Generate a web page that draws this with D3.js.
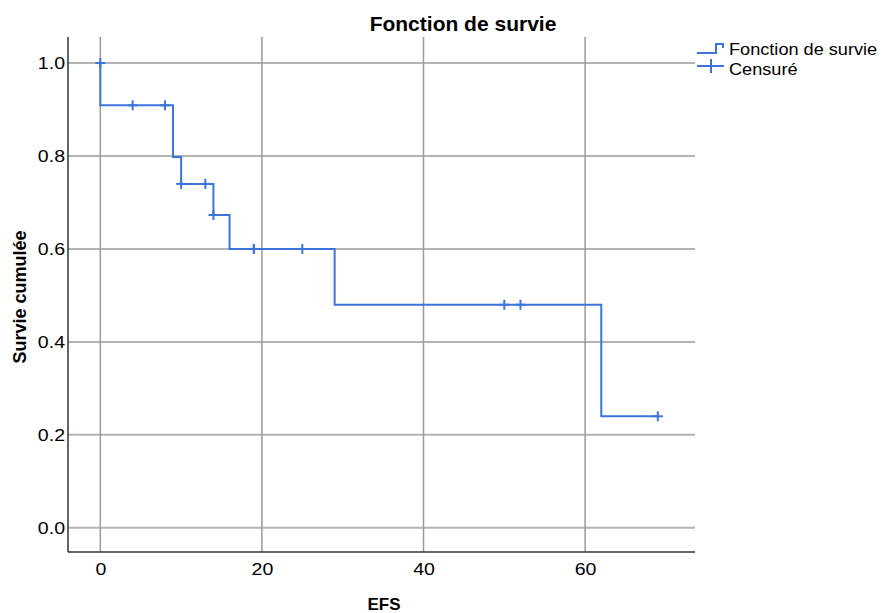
<!DOCTYPE html>
<html>
<head>
<meta charset="utf-8">
<script src="https://cdn.jsdelivr.net/npm/d3@7"></script>
<style>
  body { margin: 0; background: #fff; }
  text { font-family: "Liberation Sans", Arial, sans-serif; fill: #000; }
</style>
</head>
<body>
<div id="chart-area"></div>
<script>
// survival curve (Kaplan-Meier steps)
var stepTimes = [0, 0, 9, 10, 14, 16, 29, 62, 69]
var stepSurv  = [1.0, 0.909, 0.798, 0.740, 0.673, 0.600, 0.480, 0.240, 0.240]

// censored observations
var censTimes = [0, 4, 8, 10, 13, 14, 19, 19, 25, 50, 52, 69]
var censSurv  = [1.0, 0.909, 0.909, 0.740, 0.740, 0.673, 0.600, 0.600, 0.600, 0.480, 0.480, 0.240]

var xTicks = [0, 20, 40, 60]
var yTicks = [0, 0.2, 0.4, 0.6, 0.8, 1.0]
var legendLabels = ['Fonction de survie', 'Censuré']

var W = 894, H = 613
var plot = { left: 68, right: 695, top: 37, bottom: 552 }
var blue = '#3d74dc'
var sx = 1.15 // chart text is stretched horizontally

var svg = d3.select('#chart-area')
  .append('svg')
    .attr('width', W)
    .attr('height', H)

var x = d3.scaleLinear()
    .domain([-4, 73.6])
    .range([plot.left, plot.right])

var y = d3.scaleLinear()
    .domain([-0.052, 1.056])
    .range([plot.bottom, plot.top])

// grid
svg.append('g').selectAll('line')
  .data(yTicks)
  .enter().append('line')
    .attr('x1', plot.left).attr('x2', plot.right)
    .attr('y1', d => y(d)).attr('y2', d => y(d))
    .attr('stroke', '#b3b3b3')
    .attr('stroke-width', 2)

svg.append('g').selectAll('line')
  .data(xTicks)
  .enter().append('line')
    .attr('x1', d => x(d)).attr('x2', d => x(d))
    .attr('y1', plot.top).attr('y2', plot.bottom)
    .attr('stroke', '#9a9a9a')
    .attr('stroke-width', 1.5)

// axes
var xAxis = svg.append('g')
  .attr('transform', 'translate(0,' + plot.bottom + ')')
  .call(d3.axisBottom(x).tickValues(xTicks).tickSize(0).tickPadding(0))
xAxis.select('.domain').attr('stroke', '#333').attr('stroke-width', 1.5)
  .attr('d', 'M' + plot.left + ',0H' + plot.right)
xAxis.selectAll('.tick text')
  .attr('font-size', '17px')
  .attr('y', 23)
  .attr('dy', 0)
  .attr('transform', 'scale(' + sx + ',1)')

var yAxis = svg.append('g')
  .attr('transform', 'translate(' + plot.left + ',0)')
  .call(d3.axisLeft(y).tickValues(yTicks).tickFormat(d3.format('.1f')).tickSize(0).tickPadding(0))
yAxis.select('.domain').attr('stroke', '#333').attr('stroke-width', 1.5)
  .attr('d', 'M0,' + plot.top + 'V' + plot.bottom)
yAxis.selectAll('.tick text')
  .attr('font-size', '17px')
  .attr('x', 0)
  .attr('dy', '0.35em')
  .attr('transform', 'translate(-3,0) scale(' + sx + ',1)')

// survival step line
var line = d3.line()
  .x((d, i) => x(stepTimes[i]))
  .y((d, i) => y(stepSurv[i]))
  .curve(d3.curveStepAfter)

svg.append('path')
  .datum(stepTimes)
  .attr('d', line)
  .attr('fill', 'none')
  .attr('stroke', blue)
  .attr('stroke-width', 2)

// censor marks
var cens = svg.append('g').selectAll('g')
  .data(censTimes)
  .enter().append('g')
    .attr('transform', (d, i) => 'translate(' + x(d) + ',' + y(censSurv[i]) + ')')
cens.append('line')
  .attr('x1', 0).attr('x2', 0).attr('y1', -5).attr('y2', 5)
  .attr('stroke', blue).attr('stroke-width', 2)
cens.append('line')
  .attr('x1', -5).attr('x2', 5).attr('y1', 0).attr('y2', 0)
  .attr('stroke', blue).attr('stroke-width', 2)

// titles
svg.append('text')
  .attr('x', 463)
  .attr('y', 31)
  .attr('text-anchor', 'middle')
  .attr('font-size', '21px')
  .attr('font-weight', 'bold')
  .text('Fonction de survie')

svg.append('text')
  .attr('x', 384)
  .attr('y', 610)
  .attr('text-anchor', 'middle')
  .attr('font-size', '17px')
  .attr('font-weight', 'bold')
  .text('EFS')

svg.append('text')
  .attr('transform', 'translate(26,297) rotate(-90)')
  .attr('text-anchor', 'middle')
  .attr('font-size', '18px')
  .attr('font-weight', 'bold')
  .text('Survie cumulée')

// legend
var leg = svg.append('g')
leg.append('path')
  .attr('d', 'M697,53H716V44H723V48')
  .attr('fill', 'none').attr('stroke', blue).attr('stroke-width', 2)
leg.append('path')
  .attr('d', 'M697,66H724M711,59V73')
  .attr('fill', 'none').attr('stroke', blue).attr('stroke-width', 2)
leg.selectAll('text')
  .data(legendLabels)
  .enter().append('text')
    .attr('transform', (d, i) => 'translate(729,' + (55 + i * 19.5) + ') scale(1.1,1)')
    .attr('font-size', '16.5px')
    .text(d => d)
</script>
</body>
</html>
